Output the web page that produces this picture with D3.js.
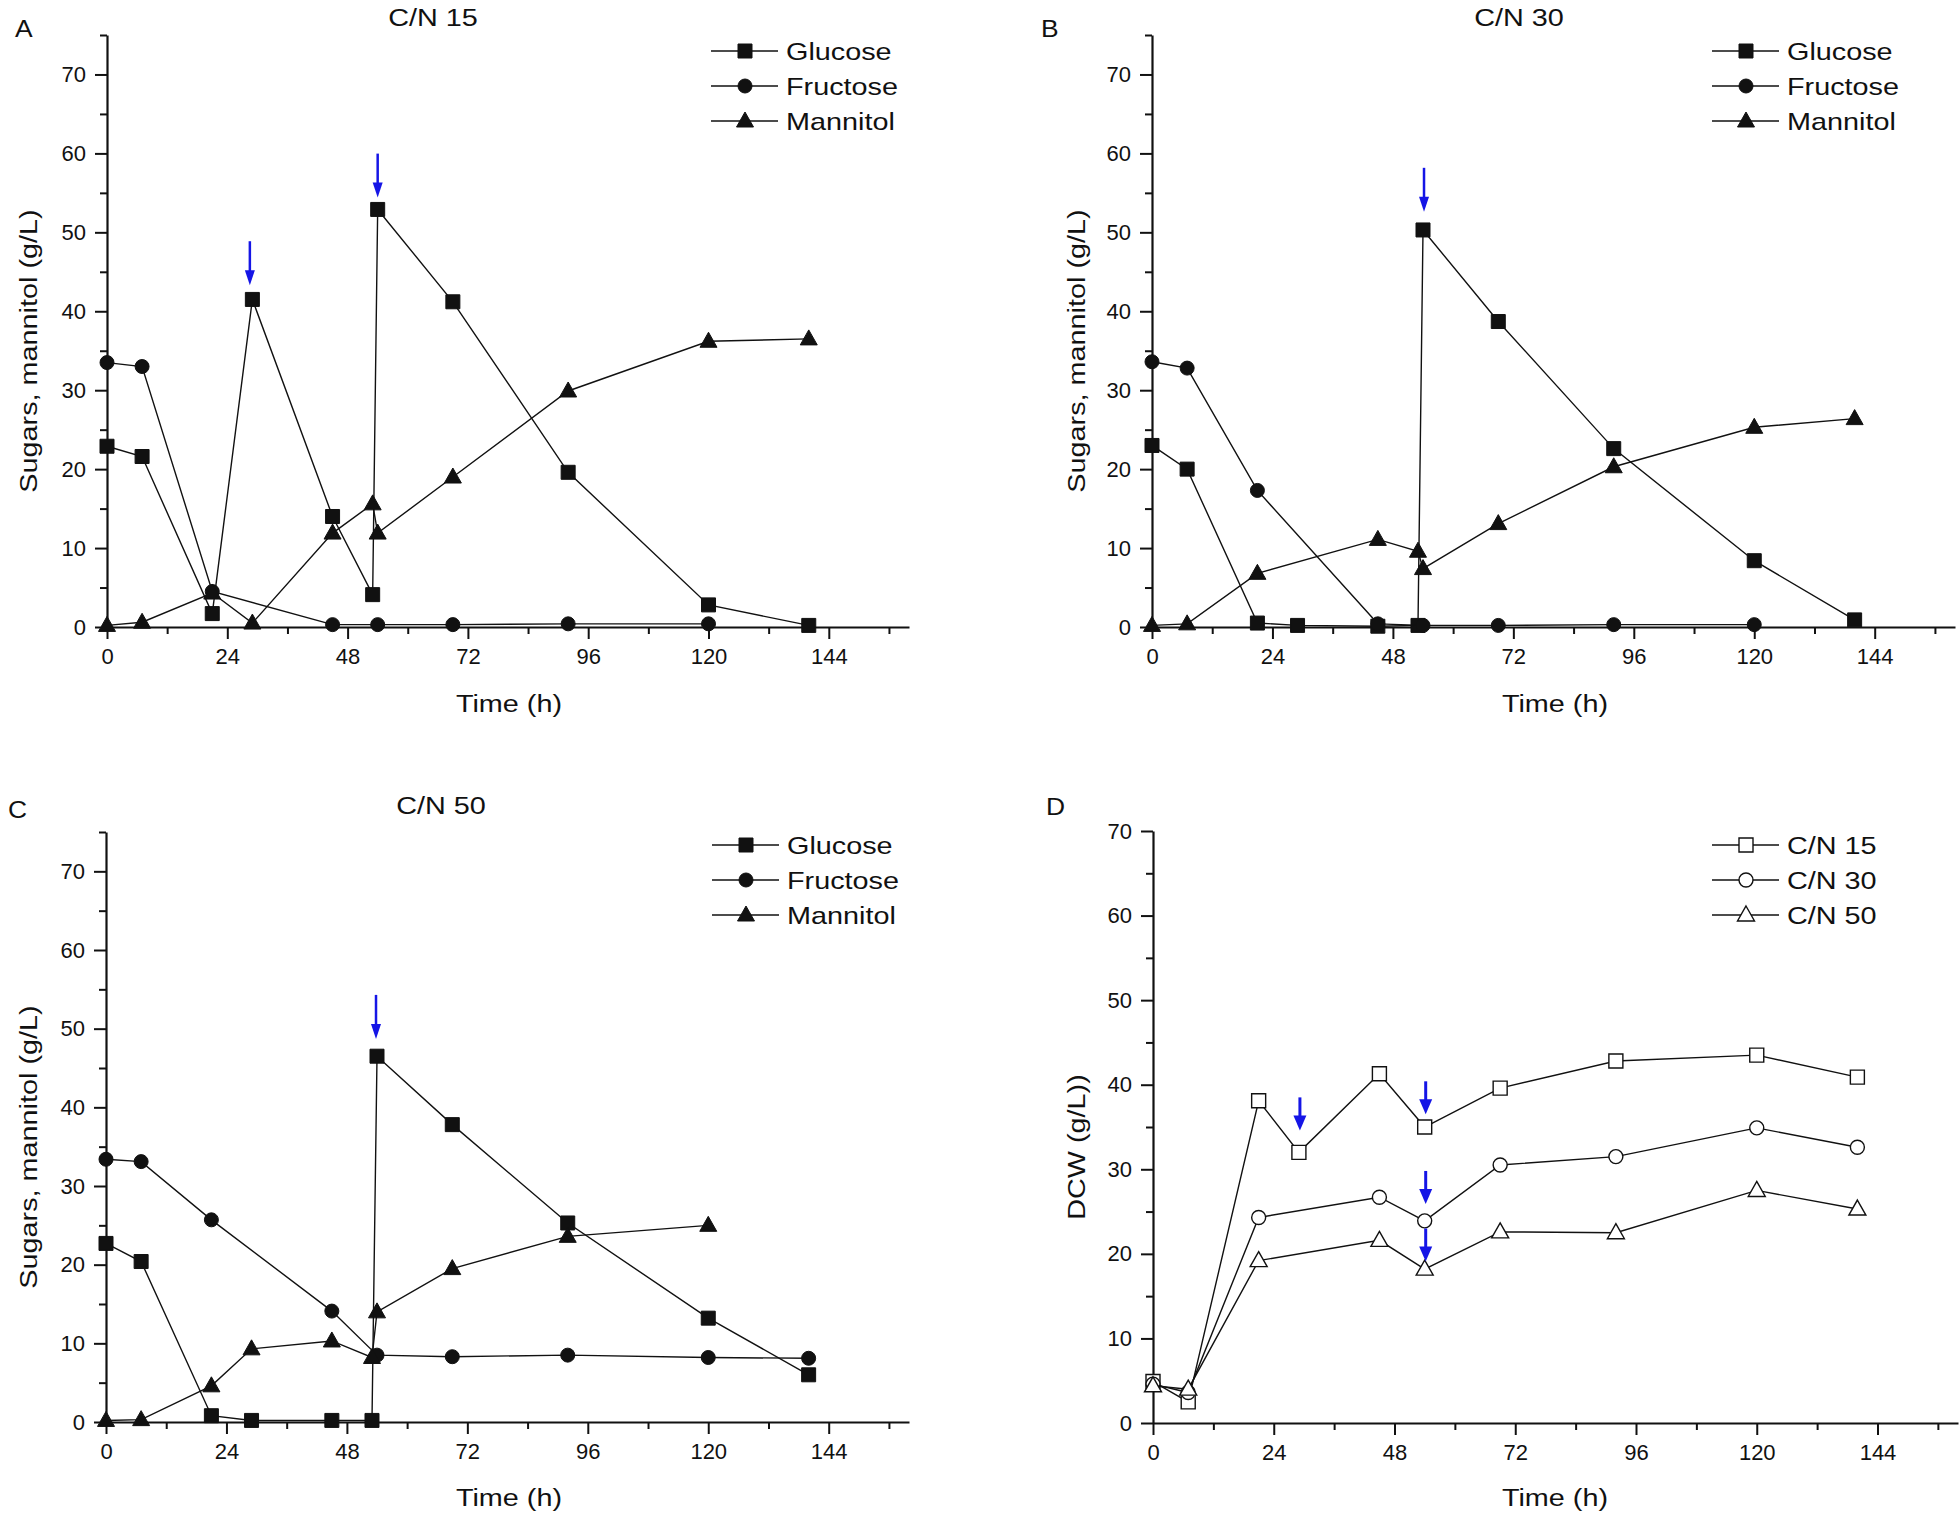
<!doctype html>
<html>
<head>
<meta charset="utf-8">
<title>Sugars, mannitol and DCW</title>
<script src="https://cdn.jsdelivr.net/npm/d3@7"></script>
<style>
  body { margin: 0; background: #fff; }
  text { font-family: "Liberation Sans", Arial, sans-serif; fill: #111; }
</style>
</head>
<body>
<svg width="1960" height="1518"></svg>
<script>
// ---- data ----
// panel A, C/N 15
var aGlucoseT  = [0, 7, 21, 29, 45, 53, 54, 69, 92, 120, 140];
var aGlucose   = [22.9, 21.6, 1.7, 41.5, 14.0, 4.1, 52.9, 41.2, 19.6, 2.8, 0.2];
var aFructoseT = [0, 7, 21, 45, 54, 69, 92, 120];
var aFructose  = [33.5, 33.0, 4.5, 0.3, 0.3, 0.3, 0.4, 0.4];
var aMannitolT = [0, 7, 21, 29, 45, 53, 54, 69, 92, 120, 140];
var aMannitol  = [0.2, 0.6, 4.3, 0.5, 11.9, 15.6, 11.9, 19.0, 29.9, 36.2, 36.5];

// panel B, C/N 30
var bGlucoseT  = [0, 7, 21, 29, 45, 53, 54, 69, 92, 120, 140];
var bGlucose   = [23.0, 20.0, 0.5, 0.2, 0.1, 0.2, 50.3, 38.7, 22.6, 8.4, 0.9];
var bFructoseT = [0, 7, 21, 45, 54, 69, 92, 120];
var bFructose  = [33.6, 32.8, 17.3, 0.4, 0.2, 0.2, 0.3, 0.3];
var bMannitolT = [0, 7, 21, 45, 53, 54, 69, 92, 120, 140];
var bMannitol  = [0.2, 0.4, 6.8, 11.1, 9.6, 7.4, 13.1, 20.3, 25.3, 26.4];

// panel C, C/N 50
var cGlucoseT  = [0, 7, 21, 29, 45, 53, 54, 69, 92, 120, 140];
var cGlucose   = [22.7, 20.4, 0.8, 0.2, 0.2, 0.2, 46.5, 37.8, 25.3, 13.2, 6.0];
var cFructoseT = [0, 7, 21, 45, 54, 69, 92, 120, 140];
var cFructose  = [33.4, 33.1, 25.7, 14.1, 8.5, 8.3, 8.5, 8.2, 8.1];
var cMannitolT = [0, 7, 21, 29, 45, 53, 54, 69, 92, 120];
var cMannitol  = [0.2, 0.3, 4.6, 9.3, 10.3, 8.2, 14.0, 19.5, 23.6, 25.0];

// panel D, DCW
var dT15 = [0, 7, 21, 29, 45, 54, 69, 92, 120, 140];
var dcw15 = [4.9, 2.5, 38.1, 32.0, 41.3, 35.0, 39.6, 42.8, 43.5, 40.9];
var dT = [0, 7, 21, 45, 54, 69, 92, 120, 140];
var dcw30 = [4.6, 3.6, 24.3, 26.7, 23.9, 30.5, 31.5, 34.9, 32.6];
var dcw50 = [4.4, 4.0, 19.2, 21.6, 18.2, 22.6, 22.5, 27.5, 25.3];

// feeding arrows: [time, value at arrow tip]
var aFeeds = [[28.5, 43.3], [54, 54.4]];
var bFeeds = [[54.2, 52.6]];
var cFeeds = [[53.8, 48.7]];
var dFeeds = [[29.2, 34.6], [54.2, 36.5], [54.2, 25.9], [54.2, 19.1]];

var xTicks = [0, 24, 48, 72, 96, 120, 144];
var xMinor = [12, 36, 60, 84, 108, 132, 156];
var yTicks = [0, 10, 20, 30, 40, 50, 60, 70];
var yMinor = [5, 15, 25, 35, 45, 55, 65, 75];

var sugarNames = ["Glucose", "Fructose", "Mannitol"];
var dcwNames = ["C/N 15", "C/N 30", "C/N 50"];

// ---- drawing ----
var svg = d3.select("svg");
svg.append("rect").attr("width", 1960).attr("height", 1518).attr("fill", "#fff");

function pts(t, v) { return t.map(function (d, i) { return [d, v[i]]; }); }

function marker(g, shape, x, y, open) {
  var p;
  if (shape === "square") p = "M" + (x - 7) + "," + (y - 7) + "h14v14h-14z";
  else if (shape === "circle") p = "M" + (x - 7) + "," + y + "a7,7 0 1,0 14,0a7,7 0 1,0 -14,0z";
  else p = "M" + x + "," + (y - 9) + "L" + (x + 8.5) + "," + (y + 6) + "L" + (x - 8.5) + "," + (y + 6) + "z";
  g.append("path").attr("d", p)
    .attr("fill", open ? "#fff" : "#111")
    .attr("stroke", "#111").attr("stroke-width", open ? 1.4 : 1);
}

function label(g, s, x, y, size, anchor, sx, rot) {
  var tr = "translate(" + x + "," + y + ")" + (rot ? " rotate(" + rot + ")" : "") + " scale(" + sx + ",1)";
  g.append("text").attr("transform", tr).attr("text-anchor", anchor)
    .attr("font-size", size).text(s);
}

function drawPanel(cfg) {
  var g = svg.append("g");
  var x = d3.scaleLinear().domain([0, 160]).range([cfg.left, cfg.right]);
  var y = d3.scaleLinear().domain([0, cfg.yMax]).range([cfg.bottom, cfg.top]);

  // axes
  g.append("g").attr("transform", "translate(0," + cfg.bottom + ")")
    .call(d3.axisBottom(x).tickValues(xTicks).tickSize(12).tickPadding(9).tickSizeOuter(0));
  g.append("g").attr("transform", "translate(0," + cfg.bottom + ")")
    .call(d3.axisBottom(x).tickValues(xMinor).tickSize(7).tickFormat("").tickSizeOuter(0))
    .select(".domain").remove();
  g.append("g").attr("transform", "translate(" + cfg.left + ",0)")
    .call(d3.axisLeft(y).tickValues(yTicks).tickSize(12).tickPadding(9).tickSizeOuter(0));
  g.append("g").attr("transform", "translate(" + cfg.left + ",0)")
    .call(d3.axisLeft(y).tickValues(yMinor.filter(function (v) { return v <= cfg.yMax; }))
      .tickSize(7).tickFormat("").tickSizeOuter(0))
    .select(".domain").remove();
  g.selectAll(".domain").attr("stroke", "#111").attr("stroke-width", 2.2);
  g.selectAll(".tick line").attr("stroke", "#111").attr("stroke-width", 2);
  g.selectAll(".tick text").attr("font-size", 22).attr("fill", "#111")
    .attr("font-family", "'Liberation Sans', Arial, sans-serif");

  // series
  var line = d3.line().x(function (d) { return x(d[0]); }).y(function (d) { return y(d[1]); });
  cfg.series.forEach(function (s) {
    var data = pts(s.t, s.v);
    g.append("path").attr("d", line(data)).attr("fill", "none")
      .attr("stroke", "#111").attr("stroke-width", 1.4);
    data.forEach(function (d) { marker(g, s.shape, x(d[0]), y(d[1]), cfg.open); });
  });

  // feeding arrows
  cfg.feeds.forEach(function (f) {
    var ax = x(f[0]), tip = y(f[1]);
    var len = cfg.arrowLen, hw = cfg.headW / 2, hh = 15;
    g.append("line").attr("x1", ax).attr("x2", ax).attr("y1", tip - len).attr("y2", tip - hh + 2)
      .attr("stroke", "#1515e6").attr("stroke-width", cfg.shaftW);
    g.append("path").attr("d", "M" + (ax - hw) + "," + (tip - hh) + "L" + (ax + hw) + "," + (tip - hh) + "L" + ax + "," + tip + "z")
      .attr("fill", "#1515e6");
  });

  // legend
  cfg.names.forEach(function (n, i) {
    var ly = cfg.legY + i * 35;
    g.append("line").attr("x1", cfg.legX).attr("x2", cfg.legX + 67).attr("y1", ly).attr("y2", ly)
      .attr("stroke", "#111").attr("stroke-width", 1.4);
    marker(g, cfg.series[i].shape, cfg.legX + 34, ly, cfg.open);
    label(g, n, cfg.legX + 75, ly + 9, 24, "start", 1.2);
  });

  // titles
  if (cfg.title) label(g, cfg.title, cfg.titleX, cfg.titleY, 24, "middle", 1.2);
  label(g, cfg.letter, cfg.letterX, cfg.letterY, 24, "start", 1.1);
  label(g, "Time (h)", cfg.xTitleX, cfg.xTitleY, 24, "middle", 1.2);
  label(g, cfg.yTitle, cfg.yTitleX, cfg.yTitleY, 24, "middle", 1.2, -90);
}

drawPanel({
  left: 107, right: 909, bottom: 627, top: 35, yMax: 75,
  series: [{t: aGlucoseT, v: aGlucose, shape: "square"},
           {t: aFructoseT, v: aFructose, shape: "circle"},
           {t: aMannitolT, v: aMannitol, shape: "triangle"}],
  names: sugarNames, open: false,
  feeds: aFeeds, arrowLen: 44, headW: 10, shaftW: 2.5,
  legX: 711, legY: 51,
  title: "C/N 15", titleX: 433, titleY: 26,
  letter: "A", letterX: 15, letterY: 37,
  xTitleX: 509, xTitleY: 712,
  yTitle: "Sugars, mannitol (g/L)", yTitleX: 37, yTitleY: 351
});

drawPanel({
  left: 1152, right: 1955, bottom: 627, top: 35, yMax: 75,
  series: [{t: bGlucoseT, v: bGlucose, shape: "square"},
           {t: bFructoseT, v: bFructose, shape: "circle"},
           {t: bMannitolT, v: bMannitol, shape: "triangle"}],
  names: sugarNames, open: false,
  feeds: bFeeds, arrowLen: 44, headW: 10, shaftW: 2.5,
  legX: 1712, legY: 51,
  title: "C/N 30", titleX: 1519, titleY: 26,
  letter: "B", letterX: 1041, letterY: 37,
  xTitleX: 1555, xTitleY: 712,
  yTitle: "Sugars, mannitol (g/L)", yTitleX: 1085, yTitleY: 351
});

drawPanel({
  left: 106, right: 909, bottom: 1422, top: 832, yMax: 75,
  series: [{t: cGlucoseT, v: cGlucose, shape: "square"},
           {t: cFructoseT, v: cFructose, shape: "circle"},
           {t: cMannitolT, v: cMannitol, shape: "triangle"}],
  names: sugarNames, open: false,
  feeds: cFeeds, arrowLen: 44, headW: 10, shaftW: 2.5,
  legX: 712, legY: 845,
  title: "C/N 50", titleX: 441, titleY: 814,
  letter: "C", letterX: 8, letterY: 818,
  xTitleX: 509, xTitleY: 1506,
  yTitle: "Sugars, mannitol (g/L)", yTitleX: 37, yTitleY: 1147
});

drawPanel({
  left: 1153, right: 1958, bottom: 1423, top: 831, yMax: 70,
  series: [{t: dT15, v: dcw15, shape: "square"},
           {t: dT, v: dcw30, shape: "circle"},
           {t: dT, v: dcw50, shape: "triangle"}],
  names: dcwNames, open: true,
  feeds: dFeeds, arrowLen: 33, headW: 13, shaftW: 3,
  legX: 1712, legY: 845,
  title: null,
  letter: "D", letterX: 1046, letterY: 815,
  xTitleX: 1555, xTitleY: 1506,
  yTitle: "DCW (g/L))", yTitleX: 1085, yTitleY: 1147
});
</script>
</body>
</html>
